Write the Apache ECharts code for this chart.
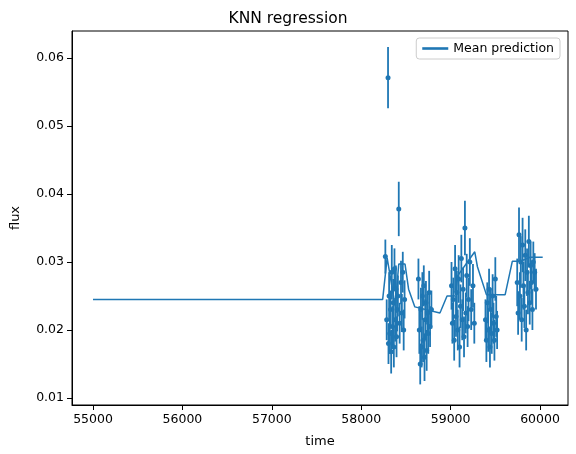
<!DOCTYPE html>
<html><head><meta charset="utf-8">
<script src="https://cdn.jsdelivr.net/npm/echarts@6/dist/echarts.min.js"></script>
<style>html,body{margin:0;padding:0;background:#fff}#c{width:576px;height:454px}</style>
</head><body><div id="c"></div>
<script>
var obsTime = [58270,58285,58300,58305,58312,58320,58328,58335,58342,58350,58358,58365,58372,58380,58388,58395,58402,58410,58420,58430,58445,58455,58465,58475,58485,
58640,58650,58660,58668,58676,58684,58692,58700,58708,58716,58724,58732,58740,58750,58760,58770,58785,
59010,59020,59030,59040,59050,59060,59070,59080,59090,59100,59110,59120,59130,59140,59150,59160,59170,59180,59190,59200,59215,59230,59250,59265,
59390,59400,59410,59420,59430,59440,59450,59460,59470,59480,59490,59500,59510,59520,
59745,59755,59765,59775,59785,59795,59805,59815,59825,59835,59845,59855,59865,59875,59885,59895,59905,59915,59925,59940,59955];
var obsFlux = [0.0308,0.0215,0.0571,0.0180,0.0250,0.0195,0.0230,0.0168,0.0285,0.0205,0.0240,0.0175,0.0290,0.0215,0.0260,0.0190,0.0230,0.0250,0.0378,0.0210,0.0270,0.0225,0.0285,0.0200,0.0245,
0.0275,0.0200,0.0150,0.0230,0.0175,0.0250,0.0185,0.0265,0.0160,0.0215,0.0240,0.0170,0.0225,0.0195,0.0255,0.0205,0.0230,
0.0265,0.0210,0.0245,0.0185,0.0290,0.0220,0.0255,0.0200,0.0275,0.0175,0.0235,0.0305,0.0215,0.0260,0.0190,0.0350,0.0225,0.0280,0.0205,0.0245,0.0300,0.0230,0.0265,0.0210,
0.0215,0.0185,0.0240,0.0200,0.0260,0.0175,0.0230,0.0195,0.0250,0.0210,0.0185,0.0275,0.0220,0.0200,
0.0270,0.0225,0.0340,0.0250,0.0300,0.0215,0.0325,0.0265,0.0235,0.0310,0.0200,0.0285,0.0255,0.0330,0.0240,0.0295,0.0270,0.0230,0.0300,0.0285,0.0260];
var obsErr = [0.0025,0.0030,0.0045,0.0030,0.0035,0.0030,0.0028,0.0032,0.0040,0.0030,0.0035,0.0030,0.0030,0.0032,0.0035,0.0030,0.0032,0.0030,0.0040,0.0030,0.0032,0.0028,0.0030,0.0030,0.0028,
0.0030,0.0035,0.0030,0.0032,0.0030,0.0035,0.0032,0.0030,0.0035,0.0030,0.0032,0.0030,0.0028,0.0030,0.0032,0.0030,0.0028,
0.0035,0.0030,0.0032,0.0030,0.0035,0.0030,0.0032,0.0030,0.0035,0.0030,0.0032,0.0035,0.0030,0.0032,0.0030,0.0040,0.0030,0.0032,0.0030,0.0032,0.0035,0.0030,0.0032,0.0030,
0.0030,0.0032,0.0030,0.0032,0.0030,0.0030,0.0032,0.0030,0.0032,0.0030,0.0030,0.0032,0.0030,0.0028,
0.0035,0.0032,0.0040,0.0035,0.0038,0.0032,0.0040,0.0035,0.0032,0.0038,0.0030,0.0035,0.0032,0.0038,0.0032,0.0035,0.0032,0.0030,0.0030,0.0028,0.0030];
var predTime = [55000,58240,58290,58380,58420,58490,58530,58600,58880,58890,58960,59050,59080,59270,59300,59400,59610,59690,59780,59890,60030];
var predFlux = [0.0245,0.0245,0.0306,0.0235,0.0297,0.0297,0.0260,0.0234,0.0225,0.0228,0.0250,0.0250,0.0280,0.0315,0.0293,0.0252,0.0252,0.0301,0.0301,0.0307,0.0307];
var xTicks = [55000,56000,57000,58000,59000,60000];
var yTicks = [0.01,0.02,0.03,0.04,0.05,0.06];

var C = '#1f77b4';
var obs = obsTime.map(function(t,i){return [t,obsFlux[i],obsErr[i]];});
var chart = echarts.init(document.getElementById('c'));
chart.setOption({
  animation:false,
  title:{text:'KNN regression',left:'center',top:6,textStyle:{fontFamily:'DejaVu Sans',fontSize:15.5,fontWeight:'normal',color:'#000'}},
  legend:{right:16,top:38,orient:'vertical',data:[{name:'Mean prediction',icon:'path://M0,0 L20,0 L20,2 L0,2 Z'}],itemWidth:26,itemHeight:3,itemGap:6,
    textStyle:{fontFamily:'DejaVu Sans',fontSize:12.5,color:'#000'},borderColor:'#ccc',borderWidth:1,borderRadius:3,padding:[4,6]},
  grid:{left:72,right:8,top:31,bottom:49,show:true,borderColor:'#000',borderWidth:1},
  xAxis:{type:'value',min:54765,max:60313,
    axisLabel:{fontFamily:'DejaVu Sans',fontSize:12.5,color:'#000',customValues:xTicks,formatter:function(v){return String(v);}},
    axisTick:{customValues:xTicks,lineStyle:{color:'#000'}},
    axisLine:{onZero:false,lineStyle:{color:'#000'}},splitLine:{show:false},
    name:'time',nameLocation:'middle',nameGap:30,nameTextStyle:{fontFamily:'DejaVu Sans',fontSize:13,color:'#000'}},
  yAxis:{type:'value',min:0.00897,max:0.06397,
    axisLabel:{fontFamily:'DejaVu Sans',fontSize:12.5,color:'#000',customValues:yTicks,formatter:function(v){return v.toFixed(2);}},
    axisTick:{show:true,customValues:yTicks,lineStyle:{color:'#000'}},
    axisLine:{show:true,onZero:false,lineStyle:{color:'#000'}},splitLine:{show:false},
    name:'flux',nameLocation:'middle',nameGap:50,nameTextStyle:{fontFamily:'DejaVu Sans',fontSize:13,color:'#000'}},
  series:[
    {type:'custom',name:'obs',data:obs,z:2,
     renderItem:function(p,api){
       var x=api.value(0),y=api.value(1),e=api.value(2);
       var a=api.coord([x,y-e]),b=api.coord([x,y+e]),c=api.coord([x,y]);
       return {type:'group',children:[
         {type:'line',shape:{x1:a[0],y1:a[1],x2:b[0],y2:b[1]},style:{stroke:C,lineWidth:1.8}},
         {type:'circle',shape:{cx:c[0],cy:c[1],r:2.5},style:{fill:C}}]};
     }},
    {type:'line',name:'Mean prediction',data:predTime.map(function(t,i){return [t,predFlux[i]];}),
     showSymbol:false,lineStyle:{color:C,width:1.5},itemStyle:{color:C},z:3}
  ]
});
</script></body></html>
